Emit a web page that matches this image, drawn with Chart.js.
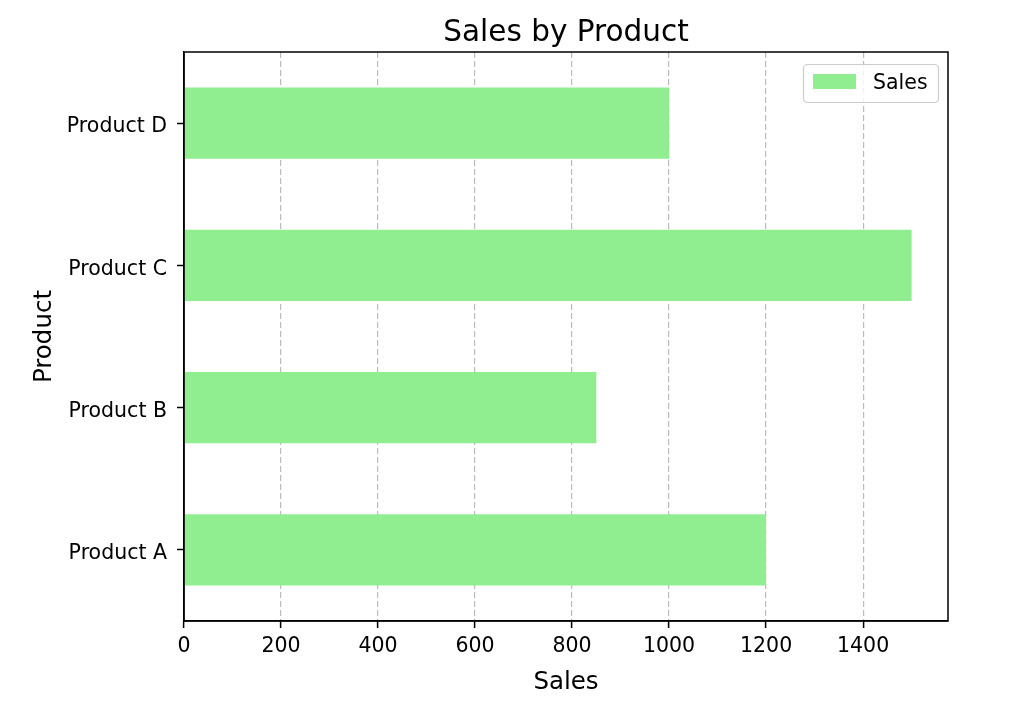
<!DOCTYPE html>
<html>
<head>
<meta charset="utf-8">
<script src="https://cdn.jsdelivr.net/npm/chart.js@4"></script>
<style>
  html, body { margin: 0; padding: 0; background: #ffffff; }
  #wrap { width: 1024px; height: 708px; }
</style>
</head>
<body>
<div id="wrap"><canvas id="c" width="1024" height="708"></canvas></div>
<script>
const categories = ['Product A', 'Product B', 'Product C', 'Product D'];
const salesValues = [1200, 850, 1500, 1000];
const xTickValues = [0, 200, 400, 600, 800, 1000, 1200, 1400];
const seriesLabel = 'Sales';
const chartTitle = 'Sales by Product';
const xAxisTitle = 'Sales';
const yAxisTitle = 'Product';
const xMin = 0;
const xMax = 1575;

const FONT = "'DejaVu Sans', sans-serif";
const BAR_COLOR = '#90ee90';

const framePlugin = {
  id: 'frame',
  afterDraw(chart) {
    const { ctx, chartArea: a } = chart;
    ctx.save();
    ctx.setLineDash([]);
    ctx.strokeStyle = '#000';
    ctx.lineWidth = 1.5;
    ctx.strokeRect(a.left, a.top, a.right - a.left, a.bottom - a.top);
    ctx.restore();
  }
};

const titlePlugin = {
  id: 'mplTitle',
  afterDraw(chart) {
    const { ctx, chartArea: a } = chart;
    ctx.save();
    ctx.fillStyle = '#000';
    ctx.font = '29.5px ' + FONT;
    ctx.textAlign = 'center';
    ctx.textBaseline = 'alphabetic';
    ctx.fillText(chartTitle, (a.left + a.right) / 2, 40.5);
    ctx.restore();
  }
};

const legendPlugin = {
  id: 'mplLegend',
  afterDraw(chart) {
    const { ctx, chartArea: a } = chart;
    const ds = chart.data.datasets[0];
    const w = 135, h = 38;
    const x = a.right - 10 - w + 0.5;
    const y = a.top + 12 + 0.5;
    ctx.save();
    ctx.setLineDash([]);
    ctx.beginPath();
    ctx.roundRect(x, y, w, h, 4);
    ctx.fillStyle = 'rgba(255,255,255,0.8)';
    ctx.fill();
    ctx.strokeStyle = '#cccccc';
    ctx.lineWidth = 1.2;
    ctx.stroke();
    ctx.fillStyle = ds.backgroundColor;
    ctx.fillRect(x + 9.5, y + 9.5, 43, 15);
    ctx.fillStyle = '#000';
    ctx.font = '20.5px ' + FONT;
    ctx.textAlign = 'left';
    ctx.textBaseline = 'alphabetic';
    ctx.fillText(ds.label, x + 69.5, y + 24.5);
    ctx.restore();
  }
};

new Chart(document.getElementById('c'), {
  type: 'bar',
  data: {
    labels: categories,
    datasets: [{
      label: seriesLabel,
      data: salesValues,
      backgroundColor: BAR_COLOR,
      borderWidth: 0,
      barPercentage: 0.5,
      categoryPercentage: 1.0
    }]
  },
  options: {
    indexAxis: 'y',
    responsive: false,
    animation: false,
    layout: { padding: { top: 52, right: 76, bottom: 0, left: 0 } },
    plugins: {
      legend: { display: false },
      title: { display: false },
      tooltip: { enabled: false }
    },
    scales: {
      x: {
        type: 'linear',
        min: xMin,
        max: xMax,
        afterBuildTicks(scale) {
          scale.ticks = xTickValues.map(v => ({ value: v }));
        },
        afterFit(scale) { scale.height = 87; },
        ticks: {
          color: '#000',
          padding: 6,
          font: { family: FONT, size: 20.5 },
          maxRotation: 0,
          autoSkip: false,
          callback: (v) => String(v)
        },
        grid: {
          display: true,
          drawOnChartArea: true,
          drawTicks: true,
          tickLength: 7,
          color: 'rgba(150,150,150,0.65)',
          lineWidth: 1.2,
          tickColor: '#000',
          tickWidth: 1.5,
          tickBorderDash: []
        },
        border: { display: true, color: '#000', width: 1.5, dash: [6, 3] },
        title: {
          display: true,
          text: xAxisTitle,
          color: '#000',
          font: { family: FONT, size: 24.5 },
          padding: { top: 0, bottom: 10.5 }
        }
      },
      y: {
        type: 'category',
        reverse: true,
        offset: true,
        afterFit(scale) { scale.width = 184; },
        ticks: {
          color: '#000',
          padding: 10,
          labelOffset: 4,
          font: { family: FONT, size: 20.5 },
          autoSkip: false
        },
        grid: {
          display: true,
          offset: false,
          drawOnChartArea: false,
          drawTicks: true,
          tickLength: 7,
          tickColor: '#000',
          tickWidth: 1.5
        },
        border: { display: true, color: '#000', width: 1.5 },
        title: {
          display: true,
          text: yAxisTitle,
          color: '#000',
          font: { family: FONT, size: 24.5 },
          padding: { top: 30, bottom: 0 }
        }
      }
    }
  },
  plugins: [framePlugin, titlePlugin, legendPlugin]
});
</script>
</body>
</html>
